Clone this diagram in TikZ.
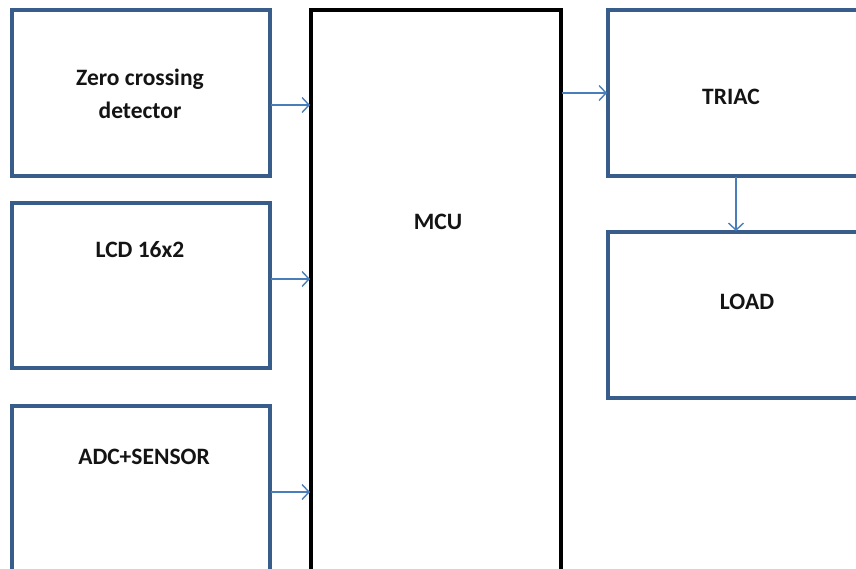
\documentclass[tikz,border=0pt]{standalone}
\usepackage{fontspec}
\setmainfont{Carlito}
\usetikzlibrary{arrows.meta}
\definecolor{boxblue}{RGB}{56,93,138}
\definecolor{arrblue}{RGB}{74,126,187}
\definecolor{txt}{RGB}{20,20,20}
\begin{document}
\begin{tikzpicture}[x=1pt,y=-1pt,
  blk/.style={draw=boxblue,line width=3.2pt,fill=white},
  mcubox/.style={draw=black,line width=3.2pt,fill=white},
  lbl/.style={font=\fontsize{23.5}{33}\selectfont\bfseries,text=txt,align=center},
  conn/.style={draw=arrblue,line width=1.4pt,-{Straight Barb[length=7pt,width=15pt,line width=1.4pt]}}]
\useasboundingbox (0,0) rectangle (856,568);
\clip (0,0) rectangle (856,568);
\draw[blk] (12,10) rectangle (270,176);
\draw[blk] (12,203) rectangle (270,368);
\draw[blk] (12,406) rectangle (270,600);
\draw[mcubox] (311,10) rectangle (561,600);
\draw[blk] (608,10) rectangle (880,176);
\draw[blk] (608,232) rectangle (880,398);
\node[lbl] (zc) at (140,94) {Zero crossing\\detector};
\node[lbl] (lcd) at (140,250) {LCD 16x2};
\node[lbl] (adc) at (144,457) {ADC+SENSOR};
\node[lbl] (mcu) at (438,222) {MCU};
\node[lbl] (triac) at (731,97) {TRIAC};
\node[lbl] (load) at (747,302) {LOAD};
\coordinate (zcR) at (271,105);
\coordinate (mcuZ) at (310,105);
\coordinate (lcdR) at (271,279);
\coordinate (mcuL) at (310,279);
\coordinate (adcR) at (271,492);
\coordinate (mcuA) at (310,492);
\coordinate (mcuT) at (562,93);
\coordinate (triL) at (607,93);
\coordinate (triB) at (736,177);
\coordinate (loadT) at (736,231);
\draw[conn] (zcR) -- (mcuZ);
\draw[conn] (lcdR) -- (mcuL);
\draw[conn] (adcR) -- (mcuA);
\draw[conn] (mcuT) -- (triL);
\draw[conn] (triB) -- (loadT);
\end{tikzpicture}
\end{document}
